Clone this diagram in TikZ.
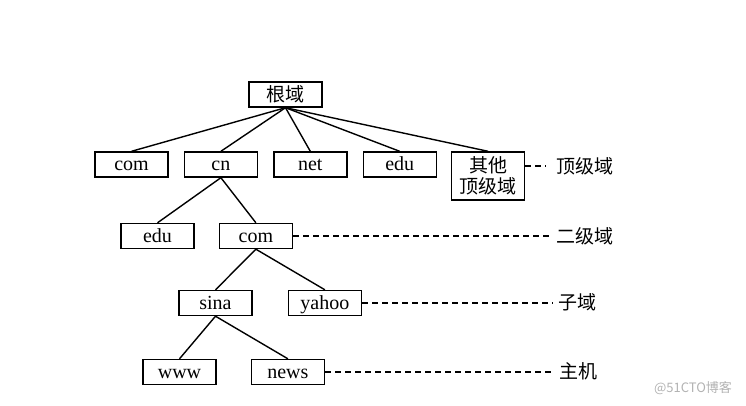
\documentclass[tikz,border=0pt]{standalone}
\usepackage{fontspec}
\setmainfont{Liberation Serif}
\newfontfamily\cjk{Noto Sans CJK SC}
\usetikzlibrary{positioning}

\begin{document}
\begin{tikzpicture}[
    x=1pt, y=-1pt,
    node distance=15pt,
    box/.style={
        rectangle, draw, line width=1.4pt, minimum width=73pt, minimum height=25pt,
        inner sep=1pt, text height=13pt, text depth=1pt, align=center,
        font=\fontsize{20}{22}\selectfont
    },
    link/.style={line width=1.4pt},
    guide/.style={line width=1.3pt, dash pattern=on 6pt off 4pt},
    level/.style={anchor=west, inner sep=0pt, font=\cjk\fontsize{19}{21}\selectfont}
]
\useasboundingbox (0,0) rectangle (746,405);

% Nodes
\node[box, text height=, text depth=, font=\cjk\fontsize{19}{21}\selectfont] (root) at (285.5,94.5) {根域};
\node[box] (com) at (131.5,164.5) {com};
\node[box, right=of com] (cn) {cn};
\node[box, right=of cn] (net) {net};
\node[box, right=of net] (edu) {edu};
\node[box, minimum height=48pt, text height=, text depth=, anchor=north west,
    font=\cjk\fontsize{19}{21}\selectfont]
    (other) at ([xshift=14pt]edu.north east) {其他\\顶级域};
\node[box] (edu2) at (157.5,236) {edu};
\node[box, right=24pt of edu2] (com2) {com};
\node[box] (sina) at (215.5,303) {sina};
\node[box, right=35pt of sina] (yahoo) {yahoo};
\node[box] (www) at (179.5,372) {www};
\node[box, right=34pt of www] (news) {news};

% Level labels
\node[level] (top) at (556,166) {顶级域};
\node[level] (second) at (556,236) {二级域};
\node[level] (sub) at (558,302) {子域};
\node[level] (host) at (559,371) {主机};
\node[font=\cjk\fontsize{13}{15}\selectfont, text=black!30] (mark) at (693,388) {@51CTO博客};

% Tree links
\foreach \t in {com,cn,net,edu,other}
    \draw[link] (root.south) -- (\t.north);
\draw[link] (cn.south) -- (edu2.north);
\draw[link] (cn.south) -- (com2.north);
\draw[link] (com2.south) -- (sina.north);
\draw[link] (com2.south) -- (yahoo.north);
\draw[link] (sina.south) -- (www.north);
\draw[link] (sina.south) -- (news.north);

% Dashed guides
\draw[guide] (other.east |- top.west) -- ([xshift=-10pt]top.west);
\draw[guide] (com2.east) -- ([xshift=-3pt]second.west |- com2.east);
\draw[guide] (yahoo.east) -- ([xshift=-5pt]sub.west |- yahoo.east);
\draw[guide] (news.east) -- ([xshift=-5pt]host.west |- news.east);

\end{tikzpicture}
\end{document}
